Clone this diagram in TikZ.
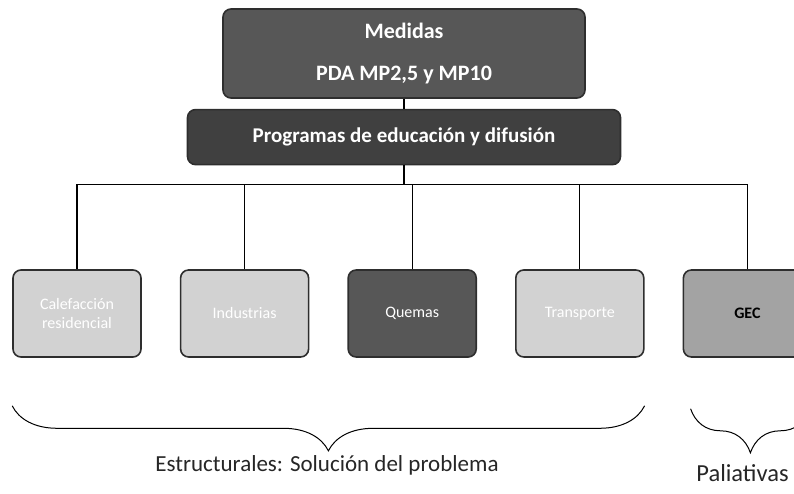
\documentclass[tikz,border=0pt]{standalone}
\usepackage{fontspec}
\setmainfont{Carlito}
\usepackage{tikz}
\usetikzlibrary{positioning}
\usetikzlibrary{decorations.pathreplacing}
\definecolor{grisOscuro}{HTML}{575757}
\definecolor{grisNegro}{HTML}{404040}
\definecolor{grisMedio}{HTML}{A3A3A3}
\definecolor{grisClaro}{HTML}{D2D2D2}
\definecolor{borde}{HTML}{2E2E2E}
\tikzset{
    medida/.style={
           rectangle,
           rounded corners=8pt,
           draw=borde, line width=1.6pt,
           inner sep=2pt,
           text centered,
           },
    accion/.style={
           medida,
           minimum width=128pt,
           minimum height=87pt,
           font=\fontsize{16}{19}\selectfont,
           text=white,
           fill=grisClaro,
           },
    conector/.style={
           draw=black, line width=1.3pt,
           },
    llave/.style={
           decorate,
           decoration={brace,amplitude=45pt},
           line width=1pt,
           },
    etiqueta/.style={
           text=black!85,
           font=\fontsize{23}{27}\selectfont,
           },
}

\begin{document}
\begin{tikzpicture}[x=1pt,y=1pt]
 \useasboundingbox (0,0) rectangle (794,494);
 \clip (0,0) rectangle (794,494);

 % Medidas del plan (arriba)
 \node[medida,
  fill=grisOscuro, text=white,
  minimum width=362pt, minimum height=89pt,
  font=\bfseries\fontsize{22}{42}\selectfont,
  align=center] (Medidas) at (404,440.5)
 {Medidas\\PDA MP2,5 y MP10};

 \node[medida,
  fill=grisNegro, text=white,
  minimum width=433pt, minimum height=55pt,
  font=\bfseries\fontsize{21}{25}\selectfont,
  below=10pt of Medidas] (Programas)
 {Programas de educación y difusión};

 % fila de medidas
 \node[accion, align=center] (Calefaccion) at (77,180.5) {Calefacción\\residencial};
 \node[accion, right=38pt of Calefaccion] (Industrias) {Industrias};
 \node[accion, fill=grisOscuro, right=38pt of Industrias] (Quemas) {Quemas};
 \node[accion, right=38pt of Quemas] (Transporte) {Transporte};
 \node[accion, fill=grisMedio, text=black, font=\bfseries\fontsize{16}{19}\selectfont,
  right=38pt of Transporte] (GEC) {GEC};

 % conectores
 \draw[conector] (Medidas) -- (Programas);
 \draw[conector] (Programas.south) -- ++(0,-19) coordinate (Bus);
 \draw[conector] (Bus) -| (Calefaccion.north);
 \draw[conector] (Bus) -| (Industrias.north);
 \draw[conector] (Bus) -| (Quemas.north);
 \draw[conector] (Bus) -| (Transporte.north);
 \draw[conector] (Bus) -| (GEC.north);

 % llaves y textos de abajo
 \draw[llave] ([yshift=-48pt]Transporte.south east) -- ([yshift=-48pt]Calefaccion.south west);
 \draw[llave, decoration={brace,amplitude=44pt}]
  ([xshift=-2pt,yshift=-51pt]GEC.south east) -- ([xshift=8pt,yshift=-51pt]GEC.south west);

 \node[etiqueta, anchor=base] (Estructurales) at (327,22) {Estructurales: Solución del problema};
 \node[etiqueta, font=\fontsize{24.5}{28}\selectfont, anchor=base] (Paliativas) at (742.5,12) {Paliativas};

\end{tikzpicture}
\end{document}
